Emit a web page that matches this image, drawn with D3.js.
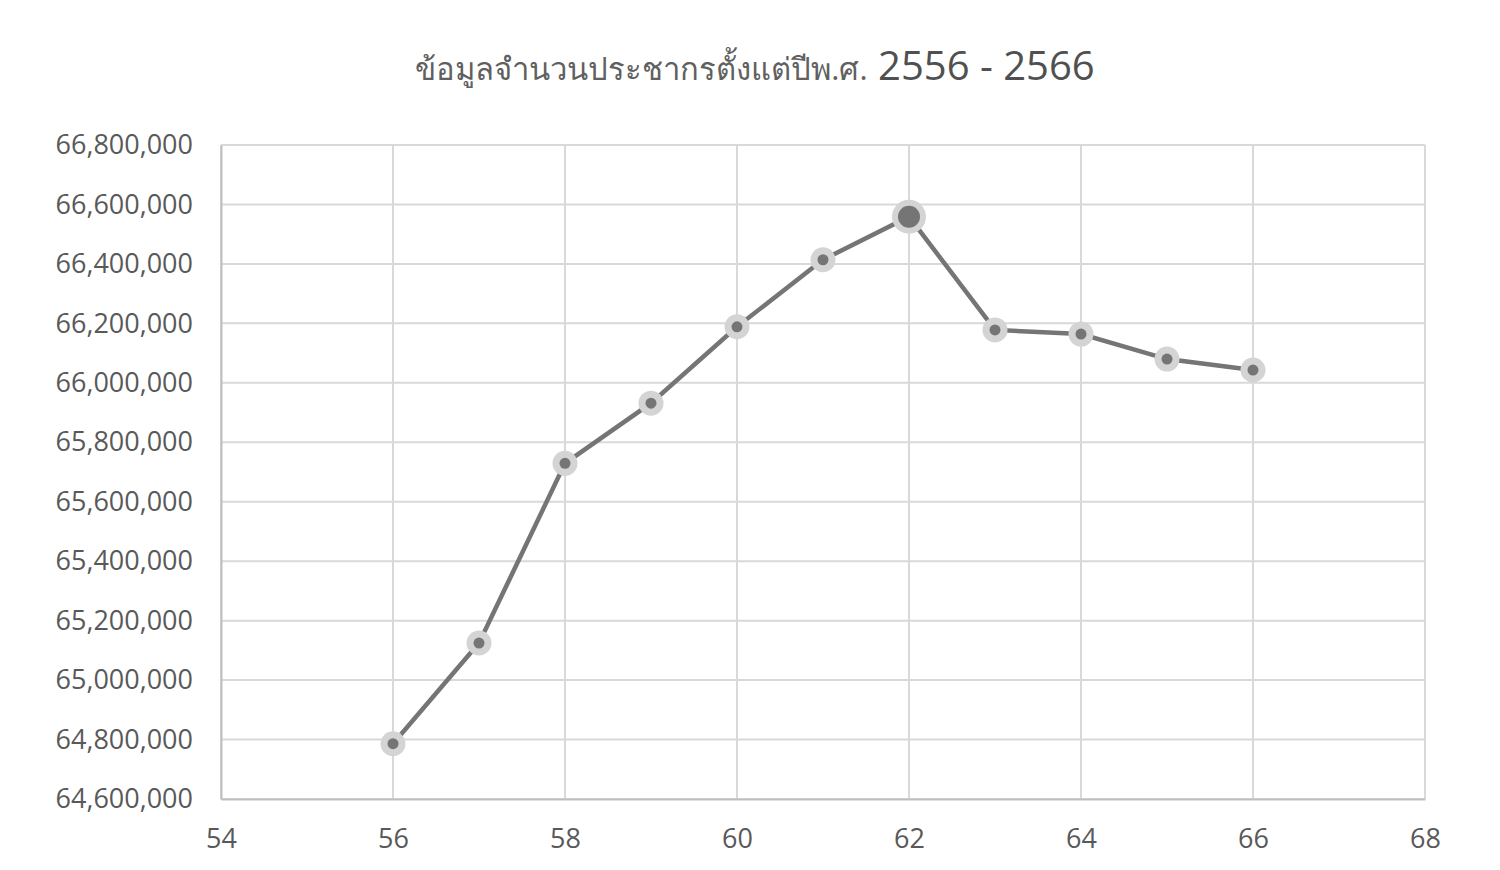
<!DOCTYPE html>
<html>
<head>
<meta charset="utf-8">
<script src="https://cdn.jsdelivr.net/npm/d3@7"></script>
<style>
  body { margin: 0; background: #fff; }
  #chart text { font-family: "Open Sans", "Noto Sans", sans-serif; fill: #595959; }
</style>
</head>
<body>
<div id="chart"></div>
<script>
// Buddhist-era years (short form) and population counts
const years = [56, 57, 58, 59, 60, 61, 62, 63, 64, 65, 66];
const population = [64785909, 65124716, 65729098, 65931550, 66188503, 66413979, 66558935, 66178000, 66164000, 66080000, 66043000];
const xTicks = [54, 56, 58, 60, 62, 64, 66, 68];
const yTicks = [64600000, 64800000, 65000000, 65200000, 65400000, 65600000, 65800000, 66000000, 66200000, 66400000, 66600000, 66800000];
const titleThai = "ข้อมูลจำนวนประชากรตั้งแต่ปีพ.ศ.";
const titleYears = " 2556 - 2566";
const highlightYear = 62;

const width = 1500, height = 870;
const margin = { top: 145, right: 75, bottom: 71, left: 221 };

const svg = d3.select("#chart")
    .append("svg")
    .attr("width", width)
    .attr("height", height);

const x = d3.scaleLinear()
    .domain([54, 68])
    .range([margin.left, width - margin.right]);

const y = d3.scaleLinear()
    .domain([64600000, 66800000])
    .range([height - margin.bottom, margin.top]);

// gridlines
svg.append("g")
    .selectAll("line.h")
    .data(yTicks)
    .join("line")
    .attr("x1", margin.left)
    .attr("x2", width - margin.right)
    .attr("y1", d => y(d))
    .attr("y2", d => y(d))
    .attr("stroke", "#d9d9d9")
    .attr("stroke-width", 2);

svg.append("g")
    .selectAll("line.v")
    .data(xTicks)
    .join("line")
    .attr("x1", d => x(d))
    .attr("x2", d => x(d))
    .attr("y1", margin.top)
    .attr("y2", height - margin.bottom)
    .attr("stroke", "#d9d9d9")
    .attr("stroke-width", 2);

// axes
const fmt = d3.format(",");
const yAxis = svg.append("g")
    .attr("transform", `translate(${margin.left},0)`)
    .call(d3.axisLeft(y).tickValues(yTicks).tickFormat(fmt).tickSize(0).tickPadding(28));
yAxis.select(".domain").attr("stroke", "#bfbfbf").attr("stroke-width", 2);
yAxis.selectAll("text").style("font-size", "27px");

const xAxis = svg.append("g")
    .attr("transform", `translate(0,${height - margin.bottom})`)
    .call(d3.axisBottom(x).tickValues(xTicks).tickSize(0).tickPadding(30));
xAxis.select(".domain").attr("stroke", "#bfbfbf").attr("stroke-width", 2);
xAxis.selectAll("text").style("font-size", "27px");

// line
const pts = years.map((yr, i) => ({ yr, v: population[i] }));
svg.append("path")
    .datum(pts)
    .attr("fill", "none")
    .attr("stroke", "#757575")
    .attr("stroke-width", 4.5)
    .attr("d", d3.line().x(d => x(d.yr)).y(d => y(d.v)));

// markers
const mk = svg.append("g").selectAll("g").data(pts).join("g")
    .attr("transform", d => `translate(${x(d.yr)},${y(d.v)})`);
mk.append("circle")
    .attr("r", d => d.yr === highlightYear ? 17 : 12.5)
    .attr("fill", "#d4d4d4");
mk.append("circle")
    .attr("r", d => d.yr === highlightYear ? 11 : 5.5)
    .attr("fill", "#757575");

// title
const title = svg.append("text")
    .attr("x", 755)
    .attr("y", 80)
    .attr("text-anchor", "middle");
title.append("tspan")
    .style("font-size", "31px")
    .style("fill", "#606060")
    .text(titleThai);
title.append("tspan")
    .style("font-size", "40px")
    .style("fill", "#505050")
    .text(titleYears);
</script>
</body>
</html>
